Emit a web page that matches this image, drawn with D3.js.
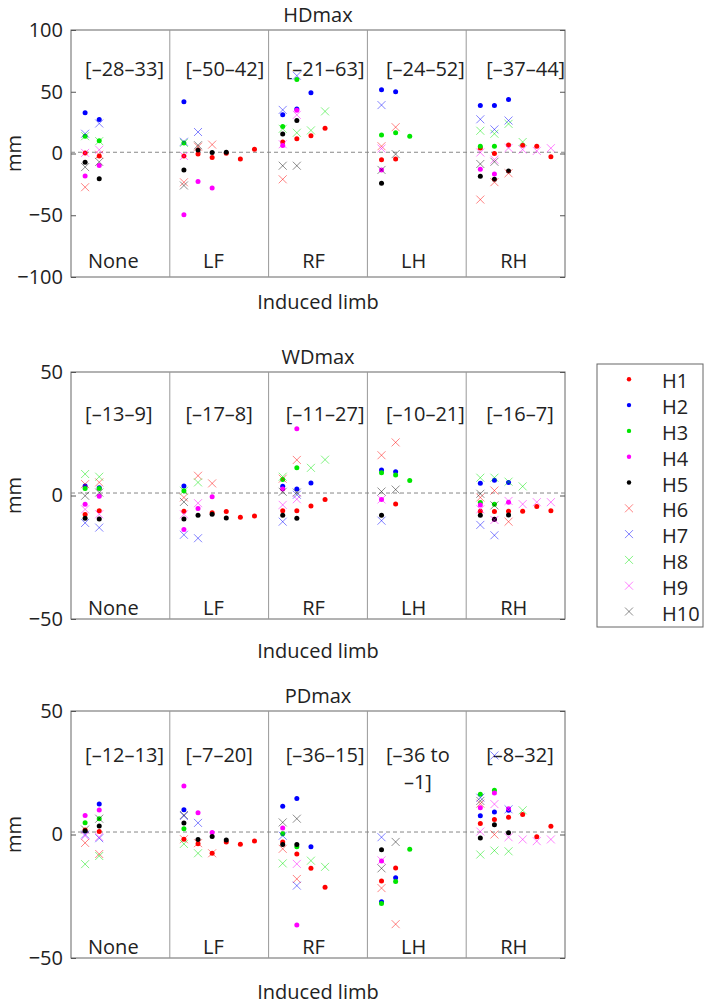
<!DOCTYPE html>
<html><head><meta charset="utf-8">
<script src="https://cdn.jsdelivr.net/npm/d3@7"></script>
<style>body{margin:0;background:#fff} text{font-family:"Open Sans",sans-serif;fill:#222}</style>
</head><body><svg id="c" width="709" height="1004"></svg>
<script>
const _ = null;
const categories = ["None", "LF", "RF", "LH", "RH"];
const seriesNames = ["H1","H2","H3","H4","H5","H6","H7","H8","H9","H10"];
const seriesColors = ["#ff0000","#0000ff","#00e600","#ff00ff","#000000","#ff0000","#0000ff","#00e600","#ff00ff","#000000"];
const seriesMarkers = ["dot","dot","dot","dot","dot","x","x","x","x","x"];
const panelTitles = ["HDmax", "WDmax", "PDmax"];
const yDomains = [[-100, 100], [-50, 50], [-50, 50]];
const yTicks = [[-100, -50, 0, 50, 100], [-50, 0, 50], [-50, 0, 50]];
const hdRanges = ["[–28–33]", "[–50–42]", "[–21–63]", "[–24–52]", "[–37–44]"];
const wdRanges = ["[–13–9]", "[–17–8]", "[–11–27]", "[–10–21]", "[–16–7]"];
const pdRanges = ["[–12–13]", "[–7–20]", "[–36–15]", "[–36 to\n–1]", "[–8–32]"];
const refValue = 1;
const xLabel = "Induced limb";
const yLabel = "mm";

// values: each series -> per induced-limb group -> per trial column
const hdH1 = [[0.5,-2],[-2,-0.5,-3.2,0.3,-4.5,3.5],[9.4,12,14.3,20.5],[-5.1,-4.5],[4.5,0,6.9,6.7,5.9,-2.7]];
const hdH2 = [[33,27.5],[42],[31.3,36,49.2],[51.7,50.1],[38.9,38.9,43.7]];
const hdH3 = [[14,10.3],[8.6],[21.9,60],[14.9,16.8,13.9],[5.9,5.9]];
const hdH4 = [[-18.2,-9.7],[-49.5,-22.7,-28],[6.4,35],[-13.3],[-12.8,-16.5]];
const hdH5 = [[-7,-20.5],[-13.4,2.9,0.8,1.1],[15.8,26.7],[-24],[-18.4,-20.8,-14.1]];
const hdH6 = [[-27.3,-1],[-23.3,5.5,7.2],[-20.9],[5.9,21.3],[-37.3,-23.2,-16]];
const hdH7 = [[16,24.3],[9.5,17.4],[35.3,63],[39.2],[27.7,19.5,26.7]];
const hdH8 = [[14,10],[8.6],[20,16.8,18.7,34.1],[],[18.4,16,24,9.3]];
const hdH9 = [[0.5,3],[-2],[7.5,31.3],[4],[0.8,-5,4.5,3.2,2.1,4.3]];
const hdH10 = [[-11,-6.8],[-25.9,6.7],[-9.9,-9.9],[-13.3,-0.5],[-8.5,-6.7]];

const wdH1 = [[-7.7,-6.2],[-6.4,_,-7,-6.5,-8.8,-8.3],[-6.2,-6.2,-4.3,-1.6],[_,-3.4],[-6.4,-6.5,-6.4,-6.4,-4.5,-6.2]];
const wdH2 = [[3.8,3.1],[3.8],[3.7,2.6,5.1],[10.3,9.6],[5,6.2,5.3]];
const wdH3 = [[2.8,2.8],[1.9],[6.5,11.2],[9.2,8.3,6.1],[-2.8,-3.5]];
const wdH4 = [[-3.5,-0.3],[-13.8,-5.3,-0.5],[2.6,27],[-1.6],[-3.8,-9.6,-2.7]];
const wdH5 = [[-9.2,-9.5],[-9.5,-8,-7.6,-9.1],[-8,-9.2],[-8],[-8,-9.6,-7.9]];
const wdH6 = [[4.6,5.3],[-0.8,8,4.9],[6.8,14.4],[16.3,21.5],[-0.8,2,-10.6]];
const wdH7 = [[-11.1,-13],[-15.9,-17.3],[-10.6,0.3],[-10.2],[-11.9,-16.1]];
const wdH8 = [[8.7,7.6],[1.9,5.3],[7.6,_,11.2,14.5],[],[7.2,7.2,5.6,3.7]];
const wdH9 = [[-5.6,-7.6],[-7.6,-3.1],[-3.8,-1.5],[-1.6],[-5.6,-9.9,-2.2,-3.5,-2.7,-2.7]];
const wdH10 = [[-0.1,1.2],[-2.6],[1.5,1.2],[1.6,2.4],[0.7,-4]];

const pdH1 = [[1.8,1.2],[-1.9,-3.7,-7.6,-3,-3.9,-2.6],[-3,-7.9,-13.7,-21.4],[-18.8,-13.6],[4.5,6.1,7,8.1,-0.9,3.3]];
const pdH2 = [[_,12.3],[10],[11.4,14.6,-5],[-27.2,-17.5],[7.6,9.1,9.8]];
const pdH3 = [[4.8,6.4],[2.3],[0.3,-5],[-27.9,-19,-6],[16.3,17.9]];
const pdH4 = [[7.7,9.9],[19.6,8.8,0.8],[2.6,-36.6],[-10.7],[10.8,16.8,10.4]];
const pdH5 = [[1.4,3.4],[4.7,-2,-0.8,-2.2],[-4,-4],[-6.2],[-1.4,3.9,0.7]];
const pdH6 = [[-3.4,-7.9],[-1.9,-3.5,-7.6],[-5.8,-18],[-21.7,-36.3],[12.5,0]];
const pdH7 = [[0,-1.5],[7.5,4.7],[-0.5,-20.7],[-1.1],[14.9,32,10.2]];
const pdH8 = [[-12,-8.7],[-3.8,-7.6],[-11.7,_,-10.6,-13.1],[],[-8.1,-6.5,-6.8,9.8]];
const pdH9 = [[-0.5,-1],[],[_,-11.9],[-10.5],[1.2,12.3,-1.1,-2,-2.7,-2]];
const pdH10 = [[2,6.4],[7.9],[4.9,6.4],[-13.7,-3],[13.6]];

const panelSeries = [
  [hdH1,hdH2,hdH3,hdH4,hdH5,hdH6,hdH7,hdH8,hdH9,hdH10],
  [wdH1,wdH2,wdH3,wdH4,wdH5,wdH6,wdH7,wdH8,wdH9,wdH10],
  [pdH1,pdH2,pdH3,pdH4,pdH5,pdH6,pdH7,pdH8,pdH9,pdH10]
];
const panelRanges = [hdRanges, wdRanges, pdRanges];

// layout
const L = 71, R = 565, H = 247;
const layout = [
  {top: 30, rangeV: 68.6, catV: -87, xlabOff: 25},
  {top: 372, rangeV: 33.1, catV: -45.5, xlabOff: 32},
  {top: 711, rangeV: 32.2, catV: -45.5, xlabOff: 34}
];
const slotsPerGroup = 7;
const x = d3.scaleLinear().domain([0, categories.length * slotsPerGroup]).range([L, R]);

const svg = d3.select("#c");
svg.append("rect").attr("width", 709).attr("height", 1004).attr("fill", "#fff");

function drawMarker(sel, i, cx, cy, small) {
  const col = seriesColors[i];
  if (seriesMarkers[i] === "dot") {
    sel.append("circle").attr("cx", cx).attr("cy", cy).attr("r", small ? 2.2 : 2.5).attr("fill", col);
  } else {
    const s = 4;
    sel.append("path")
      .attr("d", `M${cx - s},${cy - s}L${cx + s},${cy + s}M${cx - s},${cy + s}L${cx + s},${cy - s}`)
      .attr("stroke", col).attr("stroke-width", 0.9)
      .attr("stroke-opacity", i === 9 ? 0.5 : 0.55).attr("fill", "none");
  }
}

const fmt = d => d < 0 ? "−" + Math.abs(d) : String(d);

panelTitles.forEach((title, p) => {
  const lay = layout[p];
  const top = lay.top, bottom = top + H;
  const y = d3.scaleLinear().domain(yDomains[p]).range([bottom, top]);
  const g = svg.append("g");

  g.append("rect").attr("x", L).attr("y", top).attr("width", R - L).attr("height", H)
    .attr("fill", "none").attr("stroke", "#666").attr("stroke-width", 1);

  for (let k = 1; k < categories.length; k++) {
    g.append("line").attr("x1", x(k * slotsPerGroup)).attr("x2", x(k * slotsPerGroup))
      .attr("y1", top).attr("y2", bottom).attr("stroke", "#999").attr("stroke-width", 1);
  }

  g.append("line").attr("x1", L).attr("x2", R).attr("y1", y(refValue)).attr("y2", y(refValue))
    .attr("stroke", "#888").attr("stroke-width", 1).attr("stroke-dasharray", "4,3");

  const axL = g.append("g").attr("transform", `translate(${L},0)`)
    .call(d3.axisLeft(y).tickValues(yTicks[p]).tickSize(-5).tickPadding(8).tickFormat(fmt));
  axL.select(".domain").remove();
  axL.selectAll("text").style("font-size", "20px").style("font-family", "'Open Sans',sans-serif").attr("fill", "#222");
  axL.selectAll("line").attr("stroke", "#555");
  const axR = g.append("g").attr("transform", `translate(${R},0)`)
    .call(d3.axisRight(y).tickValues(yTicks[p]).tickSize(-5).tickFormat(""));
  axR.select(".domain").remove();
  axR.selectAll("line").attr("stroke", "#555");

  g.append("text").attr("x", (L + R) / 2).attr("y", top - 15).attr("dy", "0.35em")
    .attr("text-anchor", "middle").style("font-size", "20px").text(title);
  g.append("text").attr("x", (L + R) / 2).attr("y", bottom + lay.xlabOff).attr("dy", "0.35em")
    .attr("text-anchor", "middle").style("font-size", "20px").text(xLabel);
  g.append("text").attr("transform", `translate(14,${(top + bottom) / 2}) rotate(-90)`)
    .attr("dy", "0.35em").attr("text-anchor", "middle").style("font-size", "20px").text(yLabel);

  categories.forEach((c, k) => {
    g.append("text").attr("x", x(k * slotsPerGroup + 3) + k * 1.3).attr("y", y(lay.catV)).attr("dy", "0.35em")
      .attr("text-anchor", "middle").style("font-size", "20px").text(c);
    const lines = panelRanges[p][k].split("\n");
    const lx = x(k * slotsPerGroup + 1) + k * 1.5;
    const t0 = g.append("text").attr("x", lx).attr("y", y(lay.rangeV)).attr("dy", "0.35em")
      .style("font-size", "20px").text(lines[0]);
    if (lines.length > 1) {
      const w = t0.node().getComputedTextLength();
      lines.slice(1).forEach((ln, j) => {
        g.append("text").attr("x", lx + w / 2).attr("y", y(lay.rangeV) + 27.5 * (j + 1)).attr("dy", "0.35em")
          .attr("text-anchor", "middle").style("font-size", "20px").text(ln);
      });
    }
  });

  const pts = g.append("g");
  panelSeries[p].forEach((groups, i) => {
    groups.forEach((vals, k) => {
      vals.forEach((v, c) => {
        if (v === null || v === undefined) return;
        drawMarker(pts, i, x(k * slotsPerGroup + c + 1), y(v), false);
      });
    });
  });
});

const lg = svg.append("g");
lg.append("rect").attr("x", 597).attr("y", 364).attr("width", 106).attr("height", 263)
  .attr("fill", "#fff").attr("stroke", "#666").attr("stroke-width", 1);
seriesNames.forEach((n, i) => {
  const cy = 379.3 + i * 25.8;
  drawMarker(lg, i, 629, cy, true);
  lg.append("text").attr("x", 662).attr("y", cy + 2).attr("dy", "0.35em")
    .style("font-size", "20px").text(n);
});
</script>
</body></html>
